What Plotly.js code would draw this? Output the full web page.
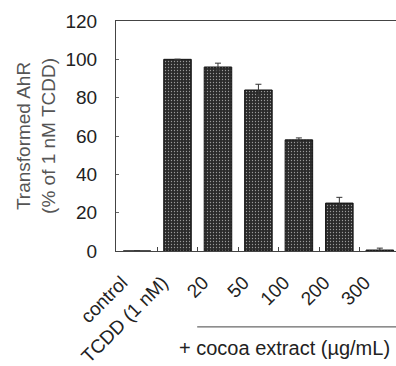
<!DOCTYPE html>
<html><head><meta charset="utf-8">
<script src="https://cdn.plot.ly/plotly-3.0.1.min.js"></script>
<style>html,body{margin:0;padding:0;background:#fff}</style>
</head><body><div id="chart" style="width:396px;height:366px"></div>
<script>
const categories = ["control", "TCDD (1 nM)", "20", "50", "100", "200", "300"];
const values = [0, 100, 96, 84, 58, 25, 0.5];
const errors = [0, 0, 2, 3, 1, 3, 1];
const yTicks = [0, 20, 40, 60, 80, 100, 120];

const trace = {
  type: 'bar', x: categories, y: values,
  width: 0.68,
  marker: {color: '#2a2a2a', line: {color: '#111', width: 1},
    pattern: {shape: '.', fgcolor: '#9a9a9a', bgcolor: '#2a2a2a', size: 3, solidity: 0.15}},
  error_y: {type: 'data', array: errors, visible: true, color: '#333', thickness: 1, width: 3},
  hoverinfo: 'none'
};
const layout = {
  width: 396, height: 366,
  margin: {l: 116, r: 0, t: 21, b: 115},
  paper_bgcolor: '#fff', plot_bgcolor: '#fff',
  font: {family: 'Liberation Sans, Arial, sans-serif', size: 19, color: '#222'},
  showlegend: false,
  bargap: 0.3,
  xaxis: {type: 'category', range: [-0.52, 6.4], showline: true, mirror: true, linecolor: '#444', linewidth: 1,
    ticks: 'inside', ticklen: 4, tickcolor: '#444', tickson: 'boundaries', tickangle: -45,
    ticklabelshift: -15, ticklabelstandoff: 12,
    showgrid: false, zeroline: false, tickfont: {size: 19, color: '#222'}},
  yaxis: {range: [0, 120], tickvals: yTicks, showline: true, linecolor: '#444', linewidth: 1,
    ticks: 'inside', ticklen: 3, tickcolor: '#666', showgrid: false, zeroline: false,
    ticklabelstandoff: 14, tickfont: {size: 19, color: '#222'}},
  annotations: [
    {text: 'Transformed AhR<br>(% of 1 nM TCDD)', xref: 'paper', yref: 'paper', x: -0.286, y: 0.5,
     xanchor: 'center', yanchor: 'middle', textangle: -90, showarrow: false, font: {size: 19, color: '#555'}},
    {text: '+ cocoa extract (µg/mL)', xref: 'paper', yref: 'paper', x: 0.6, y: -0.42,
     xanchor: 'center', yanchor: 'middle', showarrow: false, font: {size: 20, color: '#222'}}
  ],
  shapes: [
    {type: 'line', xref: 'paper', yref: 'paper', x0: 0.29, x1: 1, y0: -0.33, y1: -0.33, line: {color: '#444', width: 1}}
  ]
};
Plotly.newPlot('chart', [trace], layout, {displayModeBar: false, staticPlot: true});
</script></body></html>
